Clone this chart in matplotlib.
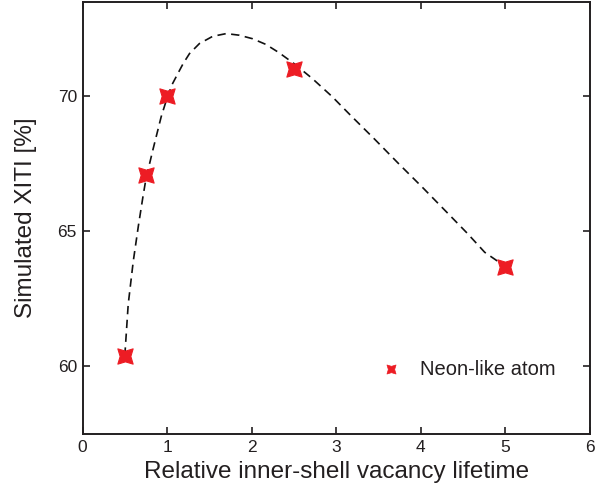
import numpy as np
import matplotlib
matplotlib.use("Agg")
import matplotlib.pyplot as plt
from matplotlib.path import Path

plt.rcParams['font.family'] = ['Liberation Sans', 'DejaVu Sans']

# simulated points
lifetime = [0.5, 0.75, 1.0, 2.5, 5.0]
xiti = [60.4, 67.1, 70.0, 71.0, 63.7]

# dashed guide curve
curve_x = [0.5, 0.54, 0.6, 0.66, 0.715, 0.75, 0.83, 0.93, 1.0, 1.06, 1.127, 1.19, 1.265,
           1.382, 1.54, 1.70, 1.853, 2.01, 2.167, 2.32, 2.5, 2.715, 2.95, 3.17,
           3.45, 3.735, 4.03, 4.32, 4.55, 4.755, 5.0]
curve_y = [60.4, 62.3, 63.9, 65.2, 66.3, 66.95, 68.0, 69.25, 69.95, 70.45, 70.85, 71.22, 71.59,
           71.96, 72.23, 72.33, 72.27, 72.14, 71.93, 71.63, 71.22, 70.67, 70.0, 69.3,
           68.43, 67.52, 66.6, 65.67, 64.93, 64.23, 63.7]

# concave four-point star
star = Path([(1, 1), (0, 0.7), (-1, 1), (-0.7, 0), (-1, -1), (0, -0.7),
             (1, -1), (0.7, 0), (1, 1)], closed=True)

red = '#ED1C24'
ink = '#231F20'

fig = plt.figure(figsize=(5.95, 4.88), dpi=100)
ax = fig.add_axes([0.1387, 0.1107, 0.8529, 0.8852])

ax.plot(curve_x, curve_y, '--', color='#111111', lw=1.2, dashes=(5, 3.3))
ax.plot(lifetime, xiti, ls='none', marker=star, ms=11, color=red,
        mec=red, mew=0.8)

# legend entry
ax.plot([3.65], [59.9], ls='none', marker=star, ms=6.5, color=red, mec=red, mew=0.5)
ax.text(3.99, 59.9, 'Neon-like atom', fontsize=14.5, va='center', ha='left',
        color=ink)

ax.set_xlim(0, 6)
ax.set_ylim(57.5, 73.5)
ax.set_xticks([0, 1, 2, 3, 4, 5, 6])
ax.set_yticks([60, 65, 70])
ax.tick_params(direction='in', top=True, right=True, length=5, width=1.2,
               labelsize=12.5, colors=ink, pad=4)
for s in ax.spines.values():
    s.set_linewidth(1.4)
    s.set_color(ink)

ax.set_xlabel('Relative inner-shell vacancy lifetime', fontsize=17.5, color=ink,
              labelpad=5)
ax.set_ylabel('Simulated XITI [%]', fontsize=17.5, color=ink, labelpad=15)

fig.savefig('out.png', dpi=100)
